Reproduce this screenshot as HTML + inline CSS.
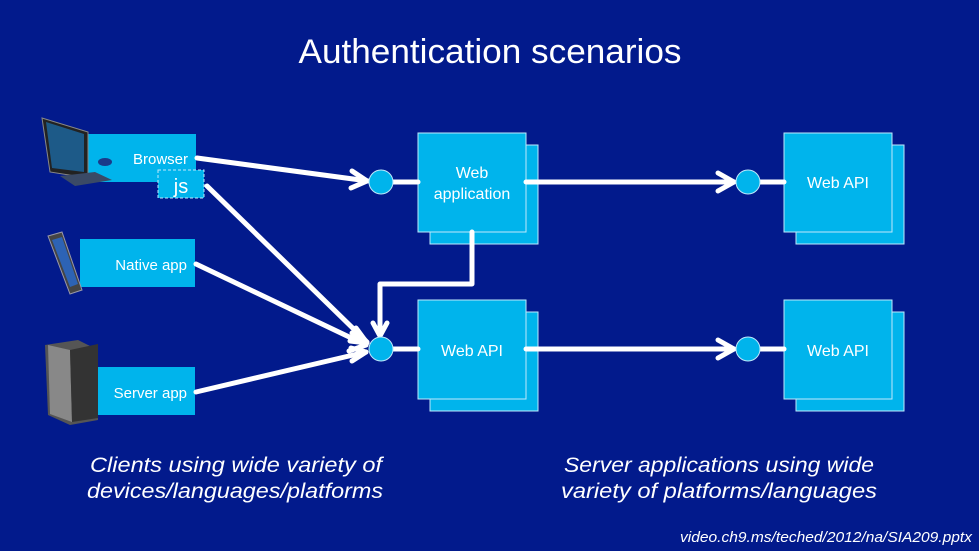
<!DOCTYPE html>
<html><head><meta charset="utf-8"><style>
html,body{margin:0;padding:0;background:#021a8c;}
svg{display:block}
text{font-family:"Liberation Sans",sans-serif;fill:#fff}
</style></head><body>
<svg width="979" height="551" viewBox="0 0 979 551" xmlns="http://www.w3.org/2000/svg">
<rect width="979" height="551" fill="#021a8c"/>
<text x="490" y="63" font-size="34" text-anchor="middle" textLength="383" lengthAdjust="spacingAndGlyphs">Authentication scenarios</text>

<!-- right stacked boxes -->
<g fill="#00b4ec" stroke="#bfe9fb" stroke-width="1">
<rect x="430" y="145" width="108" height="99"/><rect x="418" y="133" width="108" height="99"/>
<rect x="796" y="145" width="108" height="99"/><rect x="784" y="133" width="108" height="99"/>
<rect x="430" y="312" width="108" height="99"/><rect x="418" y="300" width="108" height="99"/>
<rect x="796" y="312" width="108" height="99"/><rect x="784" y="300" width="108" height="99"/>
</g>
<text x="472" y="178" font-size="16" text-anchor="middle">Web</text>
<text x="472" y="199" font-size="16" text-anchor="middle">application</text>
<text x="838" y="188" font-size="16" text-anchor="middle">Web API</text>
<text x="472" y="356" font-size="16" text-anchor="middle">Web API</text>
<text x="838" y="356" font-size="16" text-anchor="middle">Web API</text>

<!-- left labels -->
<rect x="88" y="134" width="108" height="48" fill="#00b4ec"/>
<text x="188" y="164" font-size="15" text-anchor="end">Browser</text>
<rect x="158" y="170" width="46" height="28" fill="#00b4ec" stroke="#bfe9fb" stroke-dasharray="3,2"/>
<text x="181" y="193" font-size="20" text-anchor="middle">js</text>
<rect x="80" y="239" width="115" height="48" fill="#00b4ec"/>
<text x="187" y="270" font-size="15" text-anchor="end">Native app</text>
<rect x="85" y="367" width="110" height="48" fill="#00b4ec"/>
<text x="187" y="398" font-size="15" text-anchor="end">Server app</text>

<!-- icons -->
<g>
<polygon points="42,118 88,132 88,178 50,172" fill="#222" stroke="#888"/>
<polygon points="46,122 84,134 84,172 52,168" fill="#1d5a88"/>
<polygon points="60,176 95,172 112,180 75,186" fill="#3a4a66"/>
<ellipse cx="105" cy="162" rx="7" ry="4" fill="#1a3a8a"/>
<polygon points="48,236 62,232 82,290 70,294" fill="#444" stroke="#99a"/>
<polygon points="52,240 62,237 78,284 70,287" fill="#2d63b5"/>
<polygon points="45,345 78,340 98,350 98,420 70,425 48,415" fill="#555"/>
<polygon points="48,345 70,350 72,422 50,414" fill="#888"/>
<polygon points="70,350 98,344 98,418 72,422" fill="#333"/>
</g>

<!-- connectors -->
<g stroke="#fff" stroke-width="5" fill="none" stroke-linecap="round" stroke-linejoin="round">
<line x1="197" y1="158" x2="368" y2="181"/>
<polyline points="352,171 367,181 351,188"/>
<line x1="207" y1="186" x2="367" y2="342"/>
<line x1="196" y1="264" x2="366" y2="345"/>
<line x1="196" y1="392" x2="366" y2="352"/>
<polyline points="356,328 367,343 350,341"/>
<polyline points="352,333 366,345 349,351"/>
<polyline points="351,348 366,352 352,361"/>
<polyline points="472,232 472,284 380,284 380,335"/>
<polyline points="373,323 380,336 387,323"/>
<line x1="393" y1="182" x2="418" y2="182"/>
<line x1="393" y1="349" x2="418" y2="349"/>
<line x1="526" y1="182" x2="734" y2="182"/>
<polyline points="718,173 734,182 718,191"/>
<line x1="526" y1="349" x2="734" y2="349"/>
<polyline points="718,340 734,349 718,358"/>
<line x1="760" y1="182" x2="784" y2="182"/>
<line x1="760" y1="349" x2="784" y2="349"/>
</g>
<g fill="#00b4ec" stroke="#bfe9fb" stroke-width="1">
<circle cx="381" cy="182" r="12"/><circle cx="381" cy="349" r="12"/>
<circle cx="748" cy="182" r="12"/><circle cx="748" cy="349" r="12"/>
</g>

<g font-size="21" font-style="italic" text-anchor="middle">
<text x="236" y="472" textLength="292" lengthAdjust="spacingAndGlyphs">Clients using wide variety of</text>
<text x="235" y="498" textLength="296" lengthAdjust="spacingAndGlyphs">devices/languages/platforms</text>
<text x="719" y="472" textLength="310" lengthAdjust="spacingAndGlyphs">Server applications using wide</text>
<text x="719" y="498" textLength="316" lengthAdjust="spacingAndGlyphs">variety of platforms/languages</text>
</g>
<text x="972" y="542" font-size="15" font-style="italic" text-anchor="end" textLength="292" lengthAdjust="spacingAndGlyphs">video.ch9.ms/teched/2012/na/SIA209.pptx</text>
</svg>
</body></html>
